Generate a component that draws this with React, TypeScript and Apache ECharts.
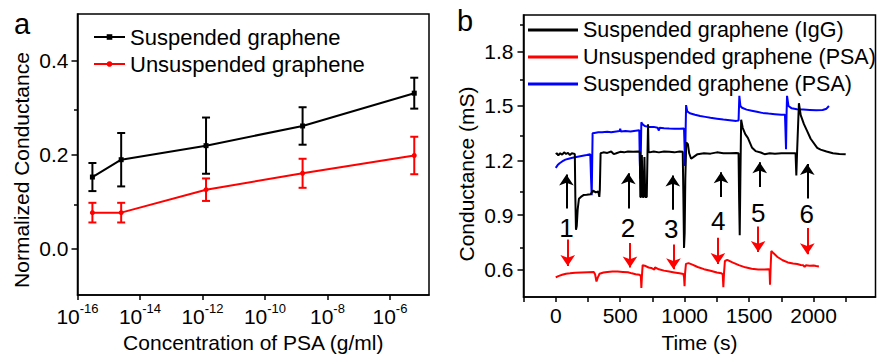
import React, { useEffect, useRef } from 'react';
import * as echarts from 'echarts';

const FONT = '"Liberation Sans", Arial, Helvetica, sans-serif';

// ---------- Panel a ----------
const concentrations = [3e-16, 2.5e-15, 1.3e-12, 1.6e-9, 6e-6];
const suspendedMean = [0.152, 0.189, 0.219, 0.261, 0.331];
const suspendedErr = [0.03, 0.057, 0.06, 0.04, 0.033];
const unsuspendedMean = [0.076, 0.076, 0.125, 0.16, 0.198];
const unsuspendedErr = [0.021, 0.021, 0.024, 0.031, 0.04];
const xTickExponentsA = [-16, -14, -12, -10, -8, -6];
const yTicksA = [0, 0.2, 0.4];
const yMinorA = [0.1, 0.3];

// ---------- Panel b ----------
const iggTrace: [number, number][] = [
  [0, 1.235], [10, 1.24], [20, 1.228], [35, 1.24], [50, 1.232], [65, 1.245], [80, 1.236], [95, 1.242],
  [110, 1.23], [125, 1.24], [140, 1.238], [148, 1.235], [152, 1.0], [157, 0.82], [163, 0.84], [170, 0.93],
  [180, 0.99], [195, 1.0], [215, 1.01], [240, 1.012], [270, 1.015], [290, 1.035], [310, 1.025], [330, 1.03],
  [338, 1.0], [342, 1.04], [348, 1.24], [370, 1.245], [400, 1.242], [430, 1.25], [450, 1.235], [470, 1.24],
  [500, 1.248], [530, 1.245], [560, 1.25], [600, 1.248], [640, 1.25], [652, 1.248], [656, 1.0], [662, 1.0],
  [668, 1.23], [674, 1.0], [682, 1.0], [688, 1.22], [694, 1.0], [706, 1.0], [712, 1.25], [716, 1.4],
  [720, 1.25], [726, 1.245], [760, 1.25], [800, 1.245], [840, 1.25], [880, 1.248], [920, 1.245], [960, 1.25],
  [985, 1.248], [990, 1.0], [995, 0.72], [1000, 0.8], [1005, 1.1], [1012, 1.3], [1025, 1.29], [1035, 1.24],
  [1050, 1.21], [1070, 1.22], [1100, 1.235], [1150, 1.24], [1200, 1.238], [1250, 1.245], [1300, 1.24],
  [1350, 1.24], [1400, 1.242], [1418, 1.24], [1422, 1.0], [1427, 0.79], [1432, 1.1], [1438, 1.424],
  [1450, 1.38], [1470, 1.345], [1490, 1.325], [1523, 1.27], [1550, 1.252], [1590, 1.244], [1620, 1.235],
  [1660, 1.24], [1700, 1.238], [1750, 1.24], [1800, 1.24], [1860, 1.24], [1866, 1.118], [1872, 1.25],
  [1886, 1.515], [1900, 1.45], [1925, 1.4], [1951, 1.36], [1977, 1.32], [2028, 1.27], [2054, 1.26],
  [2100, 1.25], [2150, 1.24], [2200, 1.236], [2249, 1.234],
];
const unsuspendedPSATrace: [number, number][] = [
  [0, 0.558], [20, 0.565], [50, 0.572], [80, 0.578], [110, 0.58], [150, 0.583], [200, 0.585], [250, 0.586],
  [295, 0.587], [305, 0.575], [316, 0.535], [325, 0.555], [340, 0.578], [370, 0.585], [400, 0.588], [440, 0.59],
  [480, 0.59], [520, 0.588], [560, 0.586], [590, 0.58], [620, 0.575], [650, 0.572], [660, 0.565], [664, 0.5],
  [668, 0.56], [674, 0.625], [690, 0.622], [720, 0.612], [740, 0.61], [765, 0.6], [770, 0.613], [800, 0.602],
  [840, 0.595], [880, 0.59], [920, 0.585], [960, 0.58], [990, 0.576], [995, 0.56], [999, 0.509], [1003, 0.58],
  [1010, 0.632], [1030, 0.636], [1060, 0.628], [1100, 0.615], [1150, 0.603], [1200, 0.594], [1250, 0.585],
  [1285, 0.58], [1295, 0.575], [1300, 0.504], [1305, 0.58], [1312, 0.648], [1330, 0.654], [1370, 0.64],
  [1420, 0.625], [1470, 0.613], [1520, 0.605], [1570, 0.601], [1620, 0.601], [1650, 0.603], [1658, 0.6],
  [1662, 0.517], [1667, 0.62], [1672, 0.703], [1690, 0.69], [1720, 0.67], [1760, 0.652], [1800, 0.64],
  [1840, 0.634], [1873, 0.631], [1900, 0.626], [1920, 0.624], [1930, 0.615], [1940, 0.624], [1970, 0.622],
  [2000, 0.623], [2020, 0.62], [2041, 0.618],
];
const suspendedPSATrace: [number, number][] = [
  [0, 1.16], [15, 1.175], [30, 1.185], [50, 1.195], [75, 1.205], [100, 1.21], [130, 1.215], [160, 1.22],
  [200, 1.225], [240, 1.23], [268, 1.235], [274, 1.1], [279, 1.01], [283, 1.2], [286, 1.35], [300, 1.352],
  [330, 1.355], [360, 1.355], [400, 1.358], [430, 1.356], [470, 1.36], [495, 1.362], [500, 1.375], [505, 1.36],
  [540, 1.362], [580, 1.36], [620, 1.364], [648, 1.366], [652, 1.2], [656, 1.1], [660, 1.25], [664, 1.41],
  [672, 1.4], [690, 1.39], [720, 1.385], [760, 1.385], [790, 1.38], [800, 1.365], [806, 1.38], [840, 1.378],
  [880, 1.376], [920, 1.375], [960, 1.375], [995, 1.376], [999, 1.28], [1003, 1.17], [1007, 1.35], [1011, 1.505],
  [1020, 1.47], [1040, 1.46], [1080, 1.452], [1120, 1.445], [1160, 1.44], [1200, 1.435], [1250, 1.43],
  [1300, 1.425], [1350, 1.422], [1400, 1.418], [1418, 1.42], [1424, 1.556], [1432, 1.5], [1445, 1.49],
  [1480, 1.48], [1520, 1.474], [1560, 1.468], [1600, 1.462], [1650, 1.458], [1700, 1.455], [1750, 1.452],
  [1778, 1.452], [1782, 1.36], [1786, 1.262], [1790, 1.45], [1794, 1.556], [1805, 1.5], [1830, 1.487],
  [1870, 1.482], [1920, 1.48], [1970, 1.478], [2020, 1.476], [2070, 1.478], [2100, 1.485], [2119, 1.5],
];
const stepNumbers = ['1', '2', '3', '4', '5', '6'];
const blackArrowTime = [83, 563, 908, 1282, 1582, 1951];
const blackArrowFrom = [0.937, 0.937, 0.93, 1.0, 1.055, 0.991];
const blackArrowTo = [1.123, 1.13, 1.118, 1.136, 1.19, 1.181];
const redArrowTime = [93, 576, 913, 1258, 1570, 1951];
const redArrowFrom = [0.766, 0.747, 0.739, 0.775, 0.838, 0.829];
const redArrowTo = [0.621, 0.612, 0.603, 0.631, 0.697, 0.685];
const numberTime = [83, 560, 895, 1261, 1570, 1946];
const numberValue = [0.832, 0.832, 0.824, 0.865, 0.914, 0.908];
const xTicksB = [-250, 0, 250, 500, 750, 1000, 1250, 1500, 1750, 2000, 2250];
const xLabelsB = [0, 500, 1000, 1500, 2000];
const yTicksB = [0.6, 0.9, 1.2, 1.5, 1.8];
const yMinorB = [0.75, 1.05, 1.35, 1.65, 1.95];

const BLACK = '#000000';
const RED = '#ff0000';
const BLUE = '#0000ff';

function errorBarSeries(name: string, means: number[], errs: number[], color: string) {
  return {
    type: 'custom',
    name,
    xAxisIndex: 0,
    yAxisIndex: 0,
    z: 4,
    data: concentrations.map((c, i) => [Math.log10(c), means[i], errs[i]]),
    encode: { x: 0, y: 1 },
    renderItem: (params: any, api: any) => {
      const x = api.value(0);
      const y = api.value(1);
      const e = api.value(2);
      const top = api.coord([x, y + e]);
      const bot = api.coord([x, y - e]);
      const w = 4;
      const st = { stroke: color, lineWidth: 2 };
      return {
        type: 'group',
        children: [
          { type: 'line', shape: { x1: top[0], y1: top[1], x2: bot[0], y2: bot[1] }, style: st },
          { type: 'line', shape: { x1: top[0] - w, y1: top[1], x2: top[0] + w, y2: top[1] }, style: st },
          { type: 'line', shape: { x1: bot[0] - w, y1: bot[1], x2: bot[0] + w, y2: bot[1] }, style: st },
        ],
      };
    },
  };
}

const axisLineStyle = { color: BLACK, width: 1.5 };
const centered = { align: 'center', verticalAlign: 'middle', textAlign: 'center', textVerticalAlign: 'middle' };
const GRID_A = { left: 77.5, top: 14, width: 351.5, height: 286 };
const GRID_B = { left: 523.5, top: 15, width: 352, height: 288 };

function hiddenX(gridIndex: number, min: number, max: number) {
  return {
    type: 'value', gridIndex, min, max,
    axisLine: { show: false, onZero: false }, axisTick: { show: false }, axisLabel: { show: false }, splitLine: { show: false },
  };
}
function minorY(gridIndex: number, min: number, max: number, values: number[]) {
  return {
    type: 'value', gridIndex, position: 'left', min, max,
    axisLine: { show: false, onZero: false },
    axisTick: { show: true, customValues: values, length: 3.5, lineStyle: axisLineStyle },
    axisLabel: { show: false },
    splitLine: { show: false },
  };
}

export default function App() {
  const ref = useRef<HTMLDivElement>(null);
  useEffect(() => {
    if (!ref.current) return;
    const chart = echarts.init(ref.current, undefined, { renderer: 'svg' });
    const option: any = {
      animation: false,
      backgroundColor: '#ffffff',
      textStyle: { fontFamily: FONT, color: BLACK },
      grid: [
        { ...GRID_A, show: true, borderColor: BLACK, borderWidth: 1.5, backgroundColor: 'transparent' },
        { ...GRID_B, show: true, borderColor: BLACK, borderWidth: 1.5, backgroundColor: 'transparent' },
        { ...GRID_A, show: false },
        { ...GRID_B, show: false },
      ],
      legend: [
        {
          left: 93, top: 23.5, padding: 0, orient: 'vertical', itemWidth: 31, itemHeight: 7, itemGap: 0,
          data: ['Suspended graphene', 'Unsuspended graphene'],
          textStyle: { fontSize: 22, lineHeight: 27, color: BLACK, fontFamily: FONT },
          selectedMode: false,
        },
        {
          left: 528, top: 16.5, padding: 0, orient: 'vertical', itemWidth: 50, itemHeight: 3, itemGap: 0,
          icon: 'rect',
          data: ['Suspended graphene (IgG)', 'Unsuspended graphene (PSA)', 'Suspended graphene (PSA)'],
          textStyle: { fontSize: 21.5, lineHeight: 27, color: BLACK, fontFamily: FONT },
          selectedMode: false,
        },
      ],
      xAxis: [
        {
          type: 'value', gridIndex: 0, min: -16, max: -4.75,
          axisLine: { onZero: false, lineStyle: axisLineStyle },
          axisTick: { customValues: xTickExponentsA, length: 5, lineStyle: axisLineStyle },
          axisLabel: {
            customValues: xTickExponentsA, margin: 7,
            formatter: (v: number) => `{b|10}{s|${v}}`,
            rich: {
              b: { fontSize: 21, fontFamily: FONT, color: BLACK, verticalAlign: 'bottom', padding: [4, 0, 0, 0] },
              s: { fontSize: 13, fontFamily: FONT, color: BLACK, verticalAlign: 'top' },
            },
          },
          splitLine: { show: false },
          name: 'Concentration of PSA (g/ml)', nameLocation: 'middle', nameGap: 36,
          nameTextStyle: { fontSize: 21, color: BLACK, fontFamily: FONT },
        },
        {
          type: 'value', gridIndex: 1, min: -250, max: 2480,
          axisLine: { onZero: false, lineStyle: axisLineStyle },
          axisTick: { customValues: xTicksB, length: 5, lineStyle: axisLineStyle },
          axisLabel: { customValues: xLabelsB, margin: 8, fontSize: 21, color: BLACK, fontFamily: FONT, formatter: (v: number) => String(v) },
          splitLine: { show: false },
          name: 'Time (s)', nameLocation: 'middle', nameGap: 35,
          nameTextStyle: { fontSize: 21, color: BLACK, fontFamily: FONT },
        },
        hiddenX(2, -16, -4.75),
        hiddenX(3, -250, 2480),
      ],
      yAxis: [
        {
          type: 'value', gridIndex: 0, position: 'left', min: -0.1, max: 0.5,
          axisLine: { onZero: false, lineStyle: axisLineStyle },
          axisTick: { customValues: yTicksA, length: 6, lineStyle: axisLineStyle },
          axisLabel: { customValues: yTicksA, margin: 9, fontSize: 21, color: BLACK, fontFamily: FONT, formatter: (v: number) => v.toFixed(1) },
          splitLine: { show: false },
        },
        minorY(2, -0.1, 0.5, yMinorA),
        {
          type: 'value', gridIndex: 1, position: 'left', min: 0.45, max: 2.0,
          axisLine: { onZero: false, lineStyle: axisLineStyle },
          axisTick: { customValues: yTicksB, length: 6, lineStyle: axisLineStyle },
          axisLabel: { customValues: yTicksB, margin: 10, fontSize: 21, color: BLACK, fontFamily: FONT, formatter: (v: number) => v.toFixed(1) },
          splitLine: { show: false },
        },
        minorY(3, 0.45, 2.0, yMinorB),
      ],
      graphic: [
        { type: 'text', x: 22, y: 24, style: { text: 'a', fontSize: 29, fontFamily: FONT, fill: BLACK, ...centered } },
        { type: 'text', x: 465, y: 21, style: { text: 'b', fontSize: 29, fontFamily: FONT, fill: BLACK, ...centered } },
        { type: 'text', x: 21, y: 170, rotation: Math.PI / 2, style: { text: 'Normalized Conductance', fontSize: 21, fontFamily: FONT, fill: BLACK, ...centered } },
        { type: 'text', x: 466, y: 174, rotation: Math.PI / 2, style: { text: 'Conductance (mS)', fontSize: 21, fontFamily: FONT, fill: BLACK, ...centered } },
      ],
      series: [
        {
          type: 'line', name: 'Suspended graphene', xAxisIndex: 0, yAxisIndex: 0, z: 5,
          data: concentrations.map((c, i) => [Math.log10(c), suspendedMean[i]]),
          symbol: 'rect', symbolSize: 5, lineStyle: { color: BLACK, width: 2 }, itemStyle: { color: BLACK },
        },
        errorBarSeries('errS', suspendedMean, suspendedErr, BLACK),
        {
          type: 'line', name: 'Unsuspended graphene', xAxisIndex: 0, yAxisIndex: 0, z: 5,
          data: concentrations.map((c, i) => [Math.log10(c), unsuspendedMean[i]]),
          symbol: 'circle', symbolSize: 5, lineStyle: { color: RED, width: 2 }, itemStyle: { color: RED },
        },
        errorBarSeries('errU', unsuspendedMean, unsuspendedErr, RED),
        {
          type: 'line', name: 'Suspended graphene (PSA)', xAxisIndex: 1, yAxisIndex: 2,
          data: suspendedPSATrace, symbol: 'none', lineStyle: { color: BLUE, width: 2 }, itemStyle: { color: BLUE },
        },
        {
          type: 'line', name: 'Suspended graphene (IgG)', xAxisIndex: 1, yAxisIndex: 2,
          data: iggTrace, symbol: 'none', lineStyle: { color: BLACK, width: 2 }, itemStyle: { color: BLACK },
        },
        {
          type: 'line', name: 'Unsuspended graphene (PSA)', xAxisIndex: 1, yAxisIndex: 2,
          data: unsuspendedPSATrace, symbol: 'none', lineStyle: { color: RED, width: 2 }, itemStyle: { color: RED },
        },
        {
          type: 'lines', name: 'blackArrows', coordinateSystem: 'cartesian2d', xAxisIndex: 1, yAxisIndex: 2,
          symbol: ['none', 'arrow'], symbolSize: [9, 11],
          lineStyle: { color: BLACK, width: 2, opacity: 1 },
          data: blackArrowTime.map((t, i) => ({ coords: [[t, blackArrowFrom[i]], [t, blackArrowTo[i]]] })),
        },
        {
          type: 'lines', name: 'redArrows', coordinateSystem: 'cartesian2d', xAxisIndex: 1, yAxisIndex: 2,
          symbol: ['none', 'arrow'], symbolSize: [9, 11],
          lineStyle: { color: RED, width: 2, opacity: 1 },
          data: redArrowTime.map((t, i) => ({ coords: [[t, redArrowFrom[i]], [t, redArrowTo[i]]] })),
        },
        {
          type: 'custom', name: 'stepNumbers', xAxisIndex: 1, yAxisIndex: 2,
          data: numberTime.map((t, i) => [t, numberValue[i], i]),
          encode: { x: 0, y: 1 },
          renderItem: (params: any, api: any) => {
            const p = api.coord([api.value(0), api.value(1)]);
            return {
              type: 'text', x: p[0], y: p[1],
              style: { text: stepNumbers[api.value(2)], fontSize: 26, fontFamily: FONT, fill: BLACK, align: 'center', verticalAlign: 'middle' },
            };
          },
        },
      ],
    };
    chart.setOption(option);
    return () => chart.dispose();
  }, []);
  return <div ref={ref} style={{ position: 'fixed', left: 0, top: 0, width: 877, height: 358 }} />;
}
